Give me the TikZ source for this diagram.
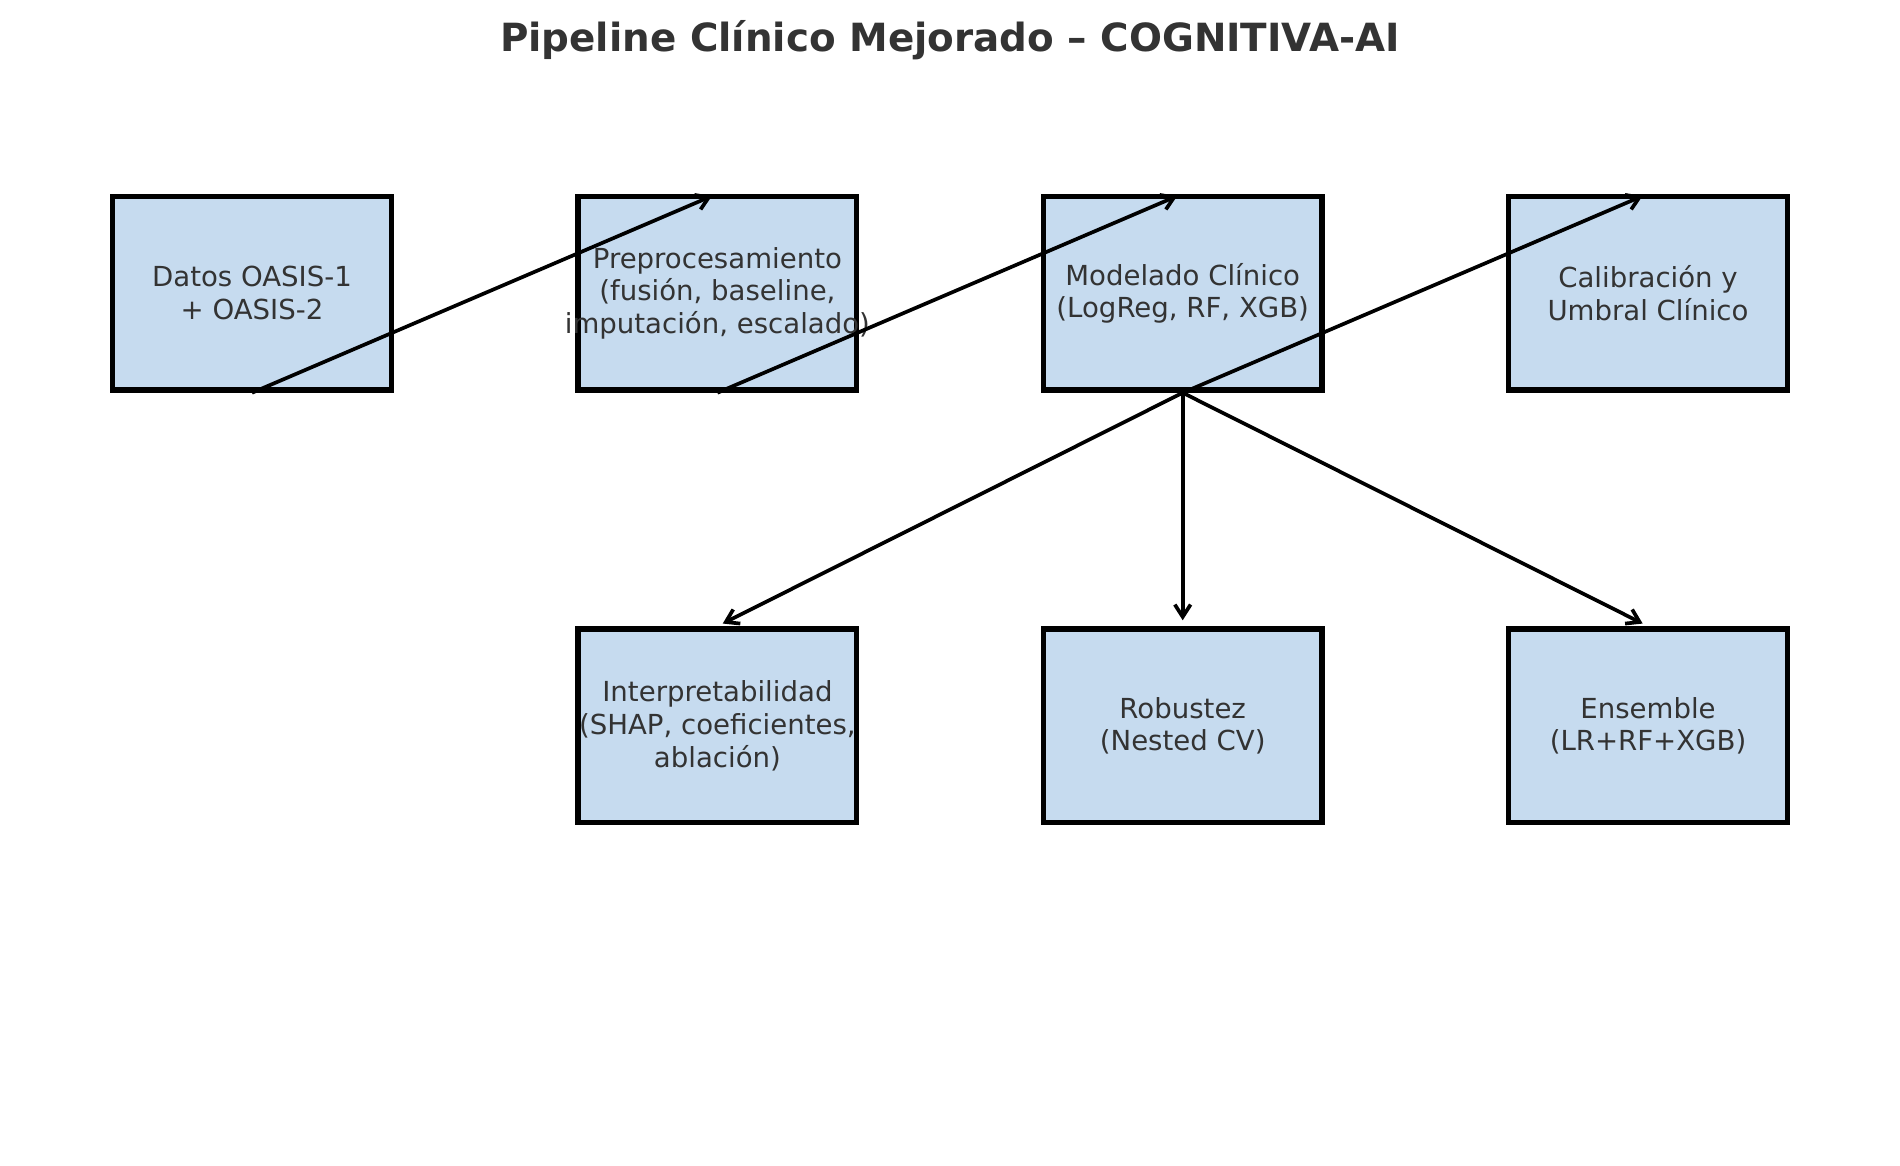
\documentclass[tikz,border=0pt]{standalone}
\usepackage{fontspec}
\setmainfont{DejaVu Sans}
\usetikzlibrary{arrows.meta}
\definecolor{boxfill}{HTML}{C6DBEF}
\definecolor{txt}{HTML}{333333}
\begin{document}
\begin{tikzpicture}[x=0.02cm,y=-0.02cm,
  stagebox/.style={draw=black, line width=3pt, fill=boxfill, rectangle,
    minimum width=5.574cm, minimum height=3.878cm, inner sep=0pt},
  boxlabel/.style={inner sep=0pt, align=center, text=txt, font=\fontsize{15.7}{18.6}\selectfont},
  flow/.style={line width=2.1pt, draw=black, -{Straight Barb[length=7pt,width=9pt,line width=2.1pt]},
    shorten >=3.4pt}]
\useasboundingbox (0,0) rectangle (1900,1166);
\node[text=txt, font=\bfseries\fontsize{22.1}{26}\selectfont] (title) at (950,40) {Pipeline Clínico Mejorado – COGNITIVA-AI};
\node[stagebox] (datos) at (252,293.2) {};
\node[stagebox] (prep) at (717.4,293.2) {};
\node[stagebox] (model) at (1182.7,293.2) {};
\node[stagebox] (calib) at (1648,293.2) {};
\node[stagebox] (interp) at (717.4,725.8) {};
\node[stagebox] (robust) at (1182.7,725.8) {};
\node[stagebox] (ens) at (1648,725.8) {};
\node[boxlabel] (datosL) at (datos) {Datos OASIS-1\\+ OASIS-2};
\node[boxlabel] (prepL) at (prep) {Preprocesamiento\\(fusión, baseline,\\imputación, escalado)};
\node[boxlabel] (modelL) at (model) {Modelado Clínico\\(LogReg, RF, XGB)};
\node[boxlabel] (calibL) at (calib) {Calibración y\\Umbral Clínico};
\node[boxlabel] (interpL) at (interp) {Interpretabilidad\\(SHAP, coeficientes,\\ablación)};
\node[boxlabel] (robustL) at (robust) {Robustez\\(Nested CV)};
\node[boxlabel] (ensL) at (ens) {Ensemble\\(LR+RF+XGB)};
\draw[flow] (datos.south) -- (prep.north);
\draw[flow] (prep.south) -- (model.north);
\draw[flow] (model.south) -- (calib.north);
\draw[flow] (model.south) -- (interp.north);
\draw[flow] (model.south) -- (robust.north);
\draw[flow] (model.south) -- (ens.north);
\end{tikzpicture}
\end{document}
